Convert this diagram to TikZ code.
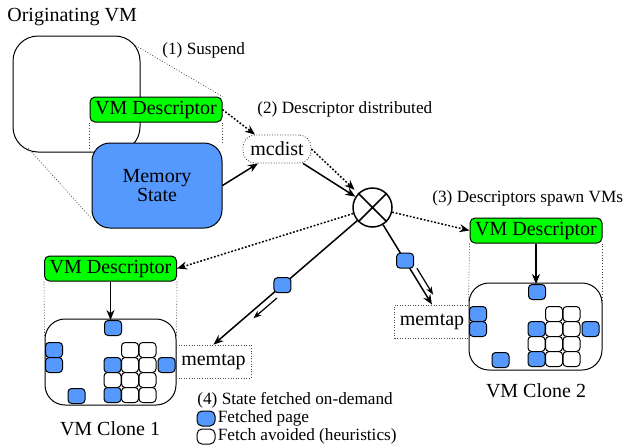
\documentclass[tikz,border=0pt]{standalone}
\usepackage{fontspec}
\setmainfont{Liberation Serif}
\usetikzlibrary{calc,positioning,arrows.meta}
\definecolor{descgreen}{RGB}{0,255,0}
\definecolor{pageblue}{RGB}{85,153,255}
\tikzset{
  desc/.style={draw, fill=descgreen, rounded corners=2.5pt, minimum width=66pt, minimum height=12.5pt, inner sep=0pt, line width=.5pt},
  vmbox/.style={draw, rounded corners=10pt, line width=.5pt, inner sep=0pt},
  page/.style={draw, fill=white, rounded corners=1.8pt, minimum width=8.5pt, minimum height=7.5pt, inner sep=0pt, line width=.5pt},
  fetched/.style={page, fill=pageblue},
  tapbox/.style={draw=black!70, dash pattern=on .5pt off .8pt, line width=.4pt, minimum width=37.5pt, minimum height=16.5pt, inner sep=0pt},
  proj/.style={draw=black!75, line width=.3pt, dash pattern=on .5pt off .9pt},
  arrow/.style={-{Stealth[length=5pt,width=4pt,inset=1.6pt]}, line width=.75pt},
  dotarrow/.style={arrow, dash pattern=on .9pt off .9pt},
  smallarrow/.style={-{Stealth[length=4pt,width=3pt,inset=1.2pt]}, line width=.6pt},
  lbl/.style={font=\fontsize{8.6}{10}\selectfont, anchor=base west, inner sep=0pt},
}
\begin{document}
\begin{tikzpicture}[x=.5pt, y=-.5pt, line join=round]
  \useasboundingbox (0,0) rectangle (626,446);
  % originating VM
  \node[anchor=base west, inner sep=0pt] (origname) at (7,21) {Originating VM};
  \node[vmbox, rounded corners=12.5pt, minimum width=63.5pt, minimum height=58pt] (orig) at (76.5,94) {};
  \node[draw, fill=pageblue, rounded corners=9pt, minimum width=65pt, minimum height=42.5pt,
        align=center, font=\fontsize{10}{8}\selectfont, line width=.5pt] (mem) at (157,185.5) {Memory\\State};
  \node[desc] (desc0) at (156,109.5) {VM Descriptor};
  \coordinate (o1) at (133,44);
  \coordinate (o2) at (28,148);
  \draw[proj] (o1) -- (desc0.north east);
  \draw[proj] (o2) -- ($(mem.south west)+(0,-10)$);
  \draw[proj] (desc0.south west) -- ($(desc0.south west |- mem.north)+(0,8)$);
  \draw[proj] (desc0.south east) -- (desc0.south east |- mem.north);
  \node[lbl] (step1) at (162,54) {(1) Suspend};
  % distribution
  \node[draw=black!70, dash pattern=on .5pt off .8pt, line width=.4pt, rounded corners=6pt,
        minimum width=34pt, minimum height=14pt, inner sep=0pt] (mcdist) at (277,149) {mcdist};
  \node[lbl] (step2) at (257,113) {(2) Descriptor distributed};
  \node[circle, draw, line width=.75pt, minimum size=19.5pt, inner sep=0pt] (mix) at (372.5,207.5) {};
  \draw[line width=.75pt] (mix.north west) -- (mix.south east) (mix.north east) -- (mix.south west);
  \draw[dotarrow] (desc0.east) -- ([xshift=-11pt]mcdist.north);
  \draw[arrow] (mem.east) -- ([xshift=-9.5pt]mcdist.south);
  \draw[arrow] ([xshift=13pt]mcdist.south) -- (mix);
  \draw[dotarrow, shorten >=2.5pt] (mcdist.east) -- (mix.north west);
  \node[lbl] (step3) at (432,202) {(3) Descriptors spawn VMs};
  % clones
  \node[desc] (desc1) at (110.5,268.5) {VM Descriptor};
  \node[desc] (desc2) at (536,230.5) {VM Descriptor};
  \node[vmbox, minimum width=65.5pt, minimum height=43pt] (clone1) at (110.5,362) {};
  \node[vmbox, minimum width=66.5pt, minimum height=43.5pt] (clone2) at (535.5,326.5) {};
  \node[tapbox] (tap1) at (213.5,361.5) {memtap};
  \node[tapbox] (tap2) at (432,321.5) {memtap};
  \foreach \n/\ox/\oy in {1/45/319, 2/469/283} {
    \begin{scope}[shift={(\ox,\oy)}]
      \node[fetched] (top\n) at (68,9) {};
      \node[fetched] (lefta\n) at (9,31) {};
      \node[fetched] (leftb\n) at (9,46) {};
      \node[fetched] (right\n) at (121.5,46) {};
      \node[fetched] (bottom\n) at (31.5,77) {};
      \foreach \r in {0,...,3}
        \foreach \c in {1,2}
          \node[page] (g\n\r\c) at (67.5+17.5*\c, 31+15*\r) {};
      \node[fetched] (g\n10) at (67.5,46) {};
      \node[page] (g\n20) at (67.5,61) {};
      \node[fetched] (g\n30) at (67.5,76) {};
    \end{scope}
  }
  \draw[arrow] (desc1.south) -- (desc1.south |- top1.north);
  \draw[arrow] (desc2.south) -- (desc2.south |- top2.north);
  \draw[proj] (desc1.south west) -- ($(clone1.north west)+(0,18)$);
  \draw[proj] (desc1.south east) -- ($(clone1.north east)+(0,18)$);
  \draw[proj] (desc2.south west) -- ($(clone2.north west)+(0,18)$);
  \draw[proj] (desc2.south east) -- ($(clone2.north east)+(0,18)$);
  \draw[dotarrow] (mix) -- (desc2.west);
  \draw[dotarrow] (mix) -- (desc1.east);
  \draw[arrow] (mix) -- node[fetched, pos=.52] (pg1) {} (tap1.north);
  \draw[arrow] (mix) -- node[fetched, pos=.45] (pg2) {} (tap2.north);
  \draw[smallarrow] ($(pg1)!7pt!26:(tap1.north)$) -- ($(pg1)!22pt!8:(tap1.north)$);
  \draw[smallarrow] ($(pg2)!7pt!26:(tap2.north)$) -- ($(pg2)!22pt!8:(tap2.north)$);
  \node[anchor=base, inner sep=0pt] (name1) at (110,435) {VM Clone 1};
  \node[anchor=base, inner sep=0pt] (name2) at (536,397) {VM Clone 2};
  % legend
  \node[lbl] (step4) at (197,404) {(4) State fetched on-demand};
  \node[fetched, rounded corners=2.5pt, minimum width=9pt] (keyfetch) at (206,418.5) {};
  \node[page, rounded corners=2.5pt, minimum width=9pt] (keyavoid) at (206,436.5) {};
  \node[lbl, right=1pt of keyfetch] (keyfetchtxt) {Fetched page};
  \node[lbl, right=1pt of keyavoid] (keyavoidtxt) {Fetch avoided (heuristics)};
\end{tikzpicture}
\end{document}
